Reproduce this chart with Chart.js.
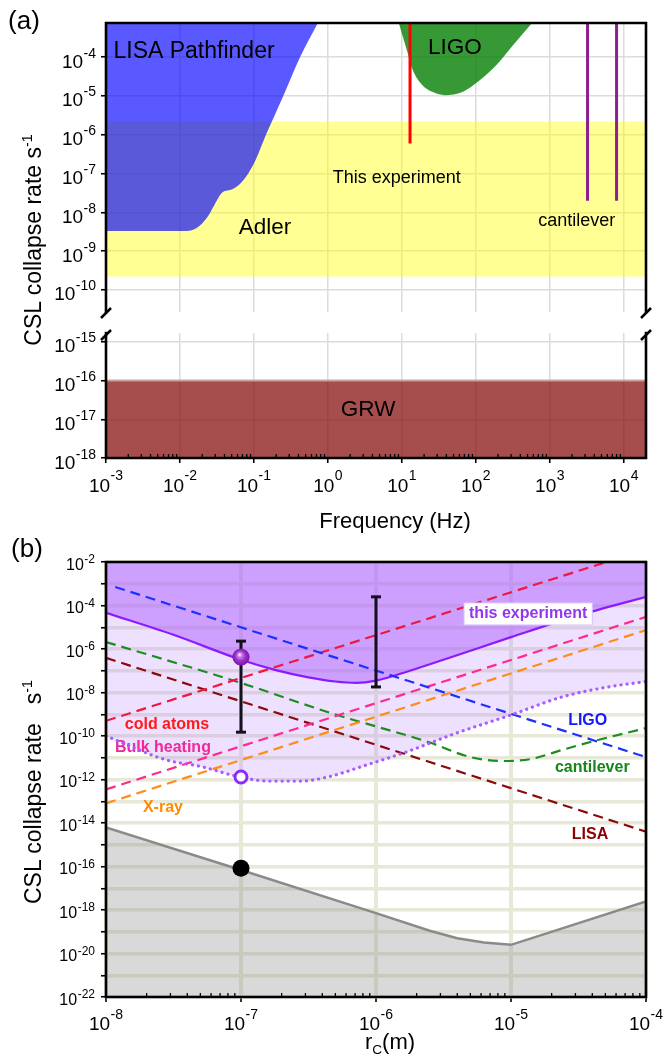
<!DOCTYPE html>
<html><head><meta charset="utf-8">
<script src="https://cdn.jsdelivr.net/npm/chart.js@4.4.1/dist/chart.umd.min.js"></script>
<style>
html,body{margin:0;padding:0;background:#fff;}
#wrap{position:relative;width:663px;height:1060px;overflow:hidden;font-family:'Liberation Sans',Arial,Helvetica,sans-serif;color:#000;}
canvas{position:absolute;left:0;}
.t{position:absolute;white-space:nowrap;line-height:1;}
.rot{transform:translate(-50%,-50%) rotate(-90deg);}
.ctr{transform:translate(-50%,-50%);}
sup,sub{font-size:0.62em;line-height:0;}
</style></head><body>
<div id="wrap">
<canvas id="cA1" width="663" height="320" style="top:0px"></canvas>
<canvas id="cA2" width="663" height="230" style="top:320px"></canvas>
<canvas id="cB" width="663" height="500" style="top:540px"></canvas>
<div class="t ctr" style="left:24px;top:20px;font-size:26px">(a)</div>
<div class="t ctr" style="left:27px;top:548px;font-size:26px">(b)</div>
<div class="t rot" style="left:33px;top:240px;font-size:23px">CSL collapse rate s<sup>-1</sup></div>
<div class="t rot" style="left:33px;top:792px;font-size:23px">CSL collapse rate&nbsp;&nbsp; s<sup>-1</sup></div>
<div class="t ctr" style="left:395px;top:521px;font-size:22px">Frequency (Hz)</div>
<div class="t ctr" style="left:390px;top:1042px;font-size:22px">r<sub>C</sub>(m)</div>
</div>
<script>
// ---------------- Panel (a) data ----------------
const freqTicks = [1e-3, 1e-2, 1e-1, 1, 10, 100, 1e3, 1e4];
const freqTickExp = ['-3','-2','-1','0','1','2','3','4'];
const aUpperTicks = [1e-10, 1e-9, 1e-8, 1e-7, 1e-6, 1e-5, 1e-4];
const aUpperTickExp = ['-10','-9','-8','-7','-6','-5','-4'];
const aLowerTicks = [1e-18, 1e-17, 1e-16, 1e-15];
const aLowerTickExp = ['-18','-17','-16','-15'];

const lisaPfFreq = [1e-3, 1.23e-2, 1.7e-2, 2.3e-2, 2.95e-2, 3.7e-2, 5.2e-2, 7.1e-2, 0.1, 0.148, 0.245, 0.42, 0.73];
const lisaPfRate = [3.3e-9, 3.3e-9, 4.0e-9, 7.1e-9, 1.6e-8, 3.2e-8, 4.0e-8, 6.5e-8, 1.8e-7, 1.07e-6, 9.3e-6, 1.0e-4, 7.6e-4];
const ligoFreq = [9.1, 11.7, 14.1, 19, 26.3, 38, 66, 112, 190, 316, 575];
const ligoRate = [7.6e-4, 1.5e-4, 4.6e-5, 1.9e-5, 1.26e-5, 1.05e-5, 1.26e-5, 2.5e-5, 6.3e-5, 2.0e-4, 7.6e-4];
const adlerFreq = [1e-3, 2e4];
const adlerHigh = [2.2e-6, 2.2e-6];
const adlerLow = [2.2e-10, 2.2e-10];
const thisExpFreq = [12.9, 12.9];
const thisExpRate = [1e-3, 5.9e-7];
const cantFreqA = [3240, 3240];
const cantFreqB = [8000, 8000];
const cantRate = [1e-3, 2.0e-8];
const grwFreq = [1e-3, 2e4];
const grwRate = [1e-16, 1e-16];

// ---------------- Panel (b) data ----------------
const rcTicks = [1e-8, 1e-7, 1e-6, 1e-5, 1e-4];
const rcTickExp = ['-8','-7','-6','-5','-4'];
const bRateTicks = [1e-22,1e-21,1e-20,1e-19,1e-18,1e-17,1e-16,1e-15,1e-14,1e-13,1e-12,1e-11,1e-10,1e-9,1e-8,1e-7,1e-6,1e-5,1e-4,1e-3,1e-2];
const bRateTickExp = ['-22','','-20','','-18','','-16','','-14','','-12','','-10','','-8','','-6','','-4','','-2'];

const expRc   = [1e-8, 3.16e-8, 1e-7, 1.78e-7, 3.16e-7, 5.0e-7, 7.1e-7, 1e-6, 1.78e-6, 3.16e-6, 1e-5, 3.16e-5, 1e-4];
const expRate = [4.6e-5, 4.5e-6, 3.2e-7, 1.1e-7, 5.0e-8, 3.2e-8, 2.75e-8, 3.5e-8, 1.0e-7, 3.2e-7, 3.5e-6, 3.5e-5, 2.5e-4];
const expLowRc   = [1e-8, 2.8e-8, 5.0e-8, 1e-7, 1.6e-7, 2.8e-7, 4.6e-7, 7.9e-7, 1.66e-6, 4.0e-6, 1e-5, 2.4e-5, 5.1e-5, 1e-4];
const expLowRate = [1e-10, 7.9e-12, 4.0e-12, 1.26e-12, 8.5e-13, 8.5e-13, 1.4e-12, 4.0e-12, 1.8e-11, 1.4e-10, 9.3e-10, 6.3e-9, 1.74e-8, 3.2e-8];
const grwBoundRc   = [1e-8, 1e-7, 1e-6, 2.5e-6, 4.0e-6, 6.3e-6, 1e-5, 1e-4];
const grwBoundRate = [6.3e-15, 6.9e-17, 7.2e-19, 1.12e-19, 5.0e-20, 3.2e-20, 2.5e-20, 2.5e-18];
const ligoRc = [1.17e-8, 1e-4];
const ligoB  = [7.1e-4, 1.07e-11];
const coldRc = [1e-8, 5.1e-5];
const coldB  = [5.0e-10, 1e-2];
const bulkRc = [1e-8, 1e-4];
const bulkB  = [3.5e-13, 3.0e-5];
const xrayRc = [1e-8, 1e-4];
const xrayB  = [8.0e-14, 7.4e-6];
const lisaRc = [1e-8, 1e-4];
const lisaB  = [3.9e-7, 4.0e-15];
const cantRc = [1e-8, 1e-7, 4.6e-7, 2.5e-6, 5.0e-6, 8.7e-6, 1.4e-5, 2.4e-5, 4.3e-5, 1e-4];
const cantB  = [2.1e-6, 2.75e-8, 1.15e-9, 5.0e-11, 1.07e-11, 7.1e-12, 8.7e-12, 2.3e-11, 6.3e-11, 2.3e-10];
const errRcA = [1e-7, 1e-7];
const errA   = [2.3e-6, 1.5e-10];
const errRcB = [1e-6, 1e-6];
const errB   = [2.5e-4, 1.8e-8];
const ptRc = [1e-7];
const ptUpper = [4.3e-7];
const ptLower = [1.3e-12];
const ptGrw = [8.3e-17];

// ---------------- helpers ----------------
const FF = '"Liberation Sans", Arial, Helvetica, sans-serif';
Chart.defaults.font.family = FF;
Chart.defaults.color = '#000';
const pts = (xs, ys) => xs.map((x, i) => ({x: x, y: ys[i]}));

function logScale(min, max, ticks, o) {
  return {
    type: 'logarithmic', min: min, max: max,
    afterBuildTicks: s => { s.ticks = ticks.map(v => ({value: v})); },
    afterFit: o.fit,
    ticks: { display: false, autoSkip: false },
    grid: { color: o.gridColor, lineWidth: o.gridWidth, drawTicks: o.drawTicks !== false,
            tickLength: 5, tickColor: '#000', tickWidth: 1.6 },
    border: { display: false }
  };
}

// power-of-ten tick labels: "10" with a raised exponent
function drawPow(ctx, x, y, exp, align, t) {
  ctx.font = t.base + 'px ' + FF;
  const wb = ctx.measureText('10').width;
  ctx.font = t.exp + 'px ' + FF;
  const we = ctx.measureText(exp).width;
  const tot = wb + we + 0.5;
  const x0 = align === 'right' ? x - tot : x - tot / 2;
  ctx.textAlign = 'left'; ctx.textBaseline = 'alphabetic'; ctx.fillStyle = '#000';
  ctx.font = t.base + 'px ' + FF; ctx.fillText('10', x0, y + t.bOff);
  ctx.font = t.exp + 'px ' + FF; ctx.fillText(exp, x0 + wb + 0.5, y + t.eOff);
}

function drawLabels(chart, o, under) {
  const {ctx, scales} = chart;
  (o.labels || []).forEach(l => {
    if (!!l.under !== under) return;
    const px = scales.x.getPixelForValue(l.x), py = scales.y.getPixelForValue(l.y);
    ctx.font = l.font; ctx.textAlign = 'center'; ctx.textBaseline = 'middle';
    if (l.box) {
      const w = ctx.measureText(l.t).width;
      ctx.fillStyle = '#fff'; ctx.fillRect(px - w / 2 - 5, py - 11, w + 10, 22);
      ctx.strokeStyle = l.box; ctx.lineWidth = 1; ctx.strokeRect(px - w / 2 - 5, py - 11, w + 10, 22);
    }
    ctx.fillStyle = l.color; ctx.fillText(l.t, px, py);
  });
}

const deco = {
  id: 'deco',
  afterDatasetDraw(chart, args, o) {
    if (o.underAfter !== undefined && args.index === o.underAfter) {
      chart.ctx.save(); drawLabels(chart, o, true); chart.ctx.restore();
    }
  },
  afterDraw(chart, args, o) {
    const {ctx, chartArea: a, scales} = chart;
    ctx.save();
    if (o.minor) {
      const xs = scales.x;
      ctx.strokeStyle = '#000'; ctx.lineWidth = 1.3;
      const e0 = Math.floor(Math.log10(xs.min)), e1 = Math.ceil(Math.log10(xs.max));
      for (let e = e0; e <= e1; e++) {
        for (let k = 2; k <= 9; k++) {
          const v = k * Math.pow(10, e);
          if (v <= xs.min || v >= xs.max) continue;
          const px = xs.getPixelForValue(v);
          ctx.beginPath(); ctx.moveTo(px, a.bottom); ctx.lineTo(px, a.bottom - 4); ctx.stroke();
        }
      }
    }
    drawLabels(chart, o, false);
    // frame
    ctx.strokeStyle = '#000'; ctx.lineWidth = 2.6; ctx.lineCap = 'square';
    const s = o.sides || 'tlrb';
    ctx.beginPath();
    if (s.includes('t')) { ctx.moveTo(a.left, a.top); ctx.lineTo(a.right, a.top); }
    if (s.includes('b')) { ctx.moveTo(a.left, a.bottom); ctx.lineTo(a.right, a.bottom); }
    if (s.includes('l')) { ctx.moveTo(a.left, a.top); ctx.lineTo(a.left, a.bottom); }
    if (s.includes('r')) { ctx.moveTo(a.right, a.top); ctx.lineTo(a.right, a.bottom); }
    ctx.stroke();
    if (o.brk) {
      const y = o.brk === 'bottom' ? a.bottom + 1 : a.top + 2;
      ctx.lineWidth = 2.5; ctx.lineCap = 'butt';
      [a.left, a.right].forEach(x => {
        ctx.beginPath(); ctx.moveTo(x - 5, y + 5); ctx.lineTo(x + 5, y - 5); ctx.stroke();
      });
    }
    // tick labels
    if (o.xt) {
      const xs = scales.x;
      xs.ticks.forEach((tk, i) => { if (o.xt.labels[i]) drawPow(ctx, xs.getPixelForValue(tk.value), a.bottom, o.xt.labels[i], 'center', o.xt); });
    }
    if (o.yt) {
      const ys = scales.y;
      ys.ticks.forEach((tk, i) => { if (o.yt.labels[i]) drawPow(ctx, a.left - o.yt.gap, ys.getPixelForValue(tk.value), o.yt.labels[i], 'right', o.yt); });
    }
    ctx.restore();
  }
};

function opts(extra) {
  return Object.assign({
    responsive: false, animation: false, devicePixelRatio: 1,
    elements: { point: { radius: 0 }, line: { borderCapStyle: 'butt' } },
  }, extra);
}
const none = 'rgba(0,0,0,0)';
const gA = '#dcdcdc';
const ytA = { base: 19, exp: 14, bOff: 10.5, eOff: 0.5, gap: 10 };

// ---------------- Panel (a) upper ----------------
new Chart(document.getElementById('cA1'), {
  type: 'line', plugins: [deco],
  data: { datasets: [
    { label: 'LISA Pathfinder', data: pts(lisaPfFreq, lisaPfRate), fill: 'end', backgroundColor: 'rgba(0,0,255,0.65)',
      borderColor: none, borderWidth: 0, cubicInterpolationMode: 'monotone', order: 5 },
    { label: 'LIGO', data: pts(ligoFreq, ligoRate), fill: 'end', backgroundColor: 'rgba(10,130,10,0.82)',
      borderColor: none, borderWidth: 0, cubicInterpolationMode: 'monotone', order: 5 },
    { label: 'This experiment', data: pts(thisExpFreq, thisExpRate), borderColor: '#ff0000', borderWidth: 3, fill: false, order: 2 },
    { label: 'cantilever', data: pts(cantFreqA, cantRate), borderColor: '#8e1f8e', borderWidth: 3, fill: false, order: 2 },
    { label: 'cantilever 2', data: pts(cantFreqB, cantRate), borderColor: '#8e1f8e', borderWidth: 3, fill: false, order: 2 },
    { label: 'Adler', data: pts(adlerFreq, adlerHigh), fill: '+1', backgroundColor: 'rgba(255,255,0,0.42)',
      borderColor: none, borderWidth: 0, order: 10 },
    { label: 'Adler low', data: pts(adlerFreq, adlerLow), fill: false, borderColor: none, borderWidth: 0, order: 11 }
  ]},
  options: opts({
    layout: { padding: { left: 0, right: 17, top: 23, bottom: 8 } },
    plugins: { legend: { display: false }, tooltip: { enabled: false },
      deco: { sides: 'tlr', brk: 'bottom',
        yt: Object.assign({ labels: aUpperTickExp }, ytA),
        labels: [
        { t: 'LISA Pathfinder', x: 0.0155, y: 1.35e-4, font: '23px ' + FF, color: '#000' },
        { t: 'LIGO', x: 52, y: 1.7e-4, font: '22.5px ' + FF, color: '#000' },
        { t: 'Adler', x: 0.141, y: 4.0e-9, font: '22.5px ' + FF, color: '#000' },
        { t: 'This experiment', x: 8.55, y: 7.8e-8, font: '18px ' + FF, color: '#000' },
        { t: 'cantilever', x: 2320, y: 6.0e-9, font: '18px ' + FF, color: '#000' }
      ] } },
    scales: {
      x: logScale(1e-3, 2e4, freqTicks, { drawTicks: false, gridColor: gA, gridWidth: 1.5, fit: s => { s.height = 0; } }),
      y: logScale(2.69e-11, 7.6e-4, aUpperTicks, { gridColor: gA, gridWidth: 1.5, fit: s => { s.width = 106; } })
    }
  })
});

// ---------------- Panel (a) lower ----------------
new Chart(document.getElementById('cA2'), {
  type: 'line', plugins: [deco],
  data: { datasets: [
    { label: 'GRW', data: pts(grwFreq, grwRate), fill: 'start', backgroundColor: 'rgba(135,15,15,0.74)',
      borderColor: '#c9a3a3', borderWidth: 2, order: 5 }
  ]},
  options: opts({
    layout: { padding: { left: 0, right: 17, top: 13, bottom: 0 } },
    plugins: { legend: { display: false }, tooltip: { enabled: false },
      deco: { sides: 'lrb', brk: 'top', minor: true,
        xt: { labels: freqTickExp, base: 19, exp: 14, bOff: 34, eOff: 22 },
        yt: Object.assign({ labels: aLowerTickExp }, ytA),
        labels: [
        { t: 'GRW', x: 3.5, y: 1.74e-17, font: '22.5px ' + FF, color: '#000' }
      ] } },
    scales: {
      x: logScale(1e-3, 2e4, freqTicks, { gridColor: gA, gridWidth: 1.5, fit: s => { s.height = 92; } }),
      y: logScale(1e-18, 1.7e-15, aLowerTicks, { gridColor: gA, gridWidth: 1.5, fit: s => { s.width = 106; } })
    }
  })
});

// ---------------- Panel (b) ----------------
function sphere() {
  const c = document.createElement('canvas'); c.width = 18; c.height = 18;
  const g = c.getContext('2d');
  const gr = g.createRadialGradient(7.5, 6.5, 0.3, 9, 9, 9);
  gr.addColorStop(0, '#ffffff'); gr.addColorStop(0.2, '#c983e8'); gr.addColorStop(0.55, '#9c30cc'); gr.addColorStop(1, '#7a12aa');
  g.fillStyle = gr; g.beginPath(); g.arc(9, 9, 8.6, 0, Math.PI * 2); g.fill();
  return c;
}
const gB = '#e8e8d8';
const dash = [10, 6];
const bf = 'bold 16px ' + FF;
new Chart(document.getElementById('cB'), {
  type: 'line', plugins: [deco],
  data: { datasets: [
    { label: 'sphere', data: pts(ptRc, ptUpper), showLine: false, pointStyle: sphere(), pointRadius: 9, order: 1 },
    { label: 'open', data: pts(ptRc, ptLower), showLine: false, pointStyle: 'circle', pointRadius: 6, pointBorderWidth: 3,
      pointBorderColor: '#8c2cff', pointBackgroundColor: '#ffffff', order: 1 },
    { label: 'grw pt', data: pts(ptRc, ptGrw), showLine: false, pointStyle: 'circle', pointRadius: 8.5, pointBorderWidth: 0,
      pointBackgroundColor: '#000', order: 1 },
    { label: 'err A', data: pts(errRcA, errA), borderColor: '#15101f', borderWidth: 3, pointStyle: 'line', pointRadius: 5,
      pointBorderWidth: 3, pointBorderColor: '#15101f', order: 2 },
    { label: 'err B', data: pts(errRcB, errB), borderColor: '#15101f', borderWidth: 3, pointStyle: 'line', pointRadius: 5,
      pointBorderWidth: 3, pointBorderColor: '#15101f', order: 2 },
    { label: 'LIGO', data: pts(ligoRc, ligoB), borderColor: '#1f2fff', borderWidth: 2.2, borderDash: dash, order: 10 },
    { label: 'cold atoms', data: pts(coldRc, coldB), borderColor: '#ee1840', borderWidth: 2.2, borderDash: dash, order: 10 },
    { label: 'Bulk heating', data: pts(bulkRc, bulkB), borderColor: '#ff2a8c', borderWidth: 2.2, borderDash: dash, order: 10 },
    { label: 'X-ray', data: pts(xrayRc, xrayB), borderColor: '#ff8c14', borderWidth: 2.2, borderDash: dash, order: 10 },
    { label: 'LISA', data: pts(lisaRc, lisaB), borderColor: '#8b0a0a', borderWidth: 2.2, borderDash: dash, order: 10 },
    { label: 'cantilever', data: pts(cantRc, cantB), borderColor: '#1e8c1e', borderWidth: 2.2, borderDash: dash,
      cubicInterpolationMode: 'monotone', order: 10 },
    { label: 'this experiment', data: pts(expRc, expRate), fill: 'end', backgroundColor: 'rgba(170,90,255,0.48)',
      borderColor: '#8c1aff', borderWidth: 2.2, cubicInterpolationMode: 'monotone', order: 18 },
    { label: 'this experiment lower bound', data: pts(expLowRc, expLowRate), fill: false,
      borderColor: '#a65cff', borderWidth: 3.2, borderDash: [0.1, 6], borderCapStyle: 'round', cubicInterpolationMode: 'monotone', order: 9 },
    { label: 'allowed region', data: pts(expLowRc, expLowRate), fill: 'end', backgroundColor: 'rgba(180,120,255,0.23)',
      borderColor: none, borderWidth: 0, cubicInterpolationMode: 'monotone', order: 19 },
    { label: 'GRW bound', data: pts(grwBoundRc, grwBoundRate), fill: 'start', backgroundColor: 'rgba(128,128,128,0.3)',
      borderColor: '#8a8a8a', borderWidth: 2.5, order: 20 }
  ]},
  options: opts({
    layout: { padding: { left: 0, right: 17, top: 22, bottom: 0 } },
    plugins: { legend: { display: false }, tooltip: { enabled: false },
      deco: { sides: 'tlrb', minor: true, underAfter: 11,
        xt: { labels: rcTickExp, base: 19, exp: 14, bOff: 33, eOff: 22 },
        yt: { labels: bRateTickExp, base: 16, exp: 12, bOff: 7.5, eOff: 1, gap: 11 },
        labels: [
        { t: 'this experiment', x: 1.34e-5, y: 4.1e-5, font: bf, color: '#9236f0', box: '#d9c2ff' },
        { t: 'LIGO', x: 3.7e-5, y: 4.9e-10, font: bf, color: '#1616ff' },
        { t: 'cantilever', x: 4.0e-5, y: 3.4e-12, font: bf, color: '#17861a' },
        { t: 'cold atoms', x: 2.83e-8, y: 3.5e-10, font: bf, color: '#ff1a1a' },
        { t: 'Bulk heating', x: 2.64e-8, y: 2.8e-11, font: bf, color: '#f0289a', under: true },
        { t: 'X-ray', x: 2.64e-8, y: 4.9e-14, font: bf, color: '#ff8c00' },
        { t: 'LISA', x: 3.85e-5, y: 2.8e-15, font: bf, color: '#8b0000' }
      ] } },
    scales: {
      x: logScale(1e-8, 1e-4, rcTicks, { gridColor: gB, gridWidth: 4, fit: s => { s.height = 43; } }),
      y: logScale(1e-22, 1e-2, bRateTicks, { gridColor: gB, gridWidth: 3.5, fit: s => { s.width = 106; } })
    }
  })
});
</script>
</body></html>
